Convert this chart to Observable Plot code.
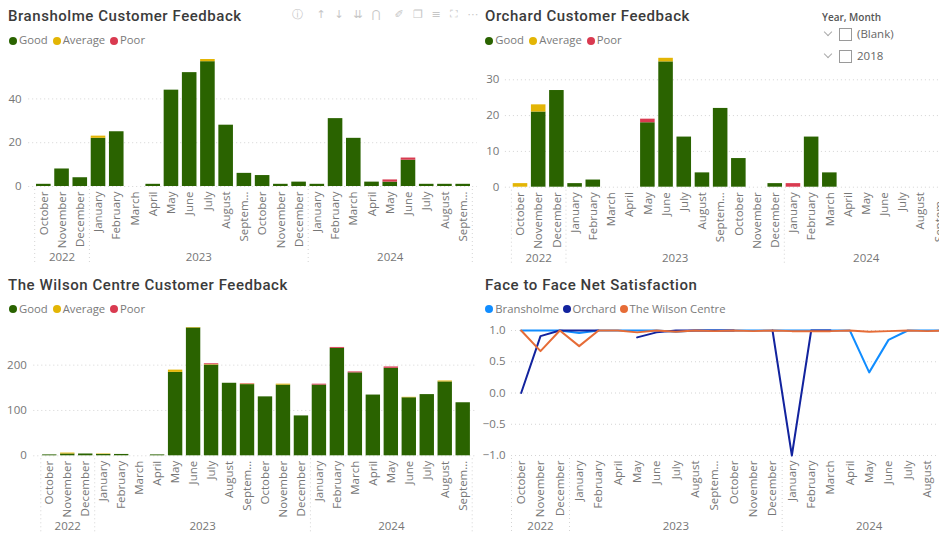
<!DOCTYPE html>
<html>
<head>
<meta charset="utf-8">
<script src="https://cdn.jsdelivr.net/npm/d3@7"></script>
<script src="https://cdn.jsdelivr.net/npm/@observablehq/plot@0.6"></script>
<style>
html,body{margin:0;padding:0;width:939px;height:535px;overflow:hidden;background:#fff}
#page{position:relative;width:939px;height:535px;overflow:hidden;font-family:"Open Sans",sans-serif}
.t{position:absolute;white-space:nowrap}
.title{font-family:Roboto,sans-serif;font-weight:500;font-size:15px;letter-spacing:.55px;color:#3b3b3b;line-height:18px}
.leg{font-size:11.3px;color:#7a7a7a;line-height:16px}
.dot{position:absolute;width:8px;height:8px;border-radius:50%}
.icon{font-family:"DejaVu Sans",sans-serif;font-size:11px;color:#c6c6c6;line-height:14px;transform:translateX(-50%)}
.box{position:absolute;width:11px;height:11px;border:1px solid #9a9a9a;background:#fff}
.chev{position:absolute;width:5px;height:5px;border-right:1px solid #aaa;border-bottom:1px solid #aaa;transform:rotate(45deg)}
</style>
</head>
<body>
<div id="page"></div>
<script>
// ---- data ----
const monthKeys = ["2022-10","2022-11","2022-12","2023-01","2023-02","2023-03","2023-04","2023-05","2023-06","2023-07","2023-08","2023-09","2023-10","2023-11","2023-12","2024-01","2024-02","2024-03","2024-04","2024-05","2024-06","2024-07","2024-08","2024-09"];
const monthNames = {"01":"January","02":"February","03":"March","04":"April","05":"May","06":"June","07":"July","08":"August","09":"Septem…","10":"October","11":"November","12":"December"};
const statuses = ["Good","Average","Poor"];
const statusColors = ["#2a6300","#e3b505","#d93a50"];
const siteNames = ["Bransholme","Orchard","The Wilson Centre"];
const siteColors = ["#118dff","#12239e","#e66c37"];
const years = ["2022","2023","2024"];

const bransholmeGood    = [1,8,4,22,25,0,1,44,52,57,28,6,5,1,2,1,31,22,2,2,12,1,1,1];
const bransholmeAverage = [0,0,0,1,0,0,0,0,0,1,0,0,0,0,0,0,0,0,0,0,0,0,0,0];
const bransholmePoor    = [0,0,0,0,0,0,0,0,0,0,0,0,0,0,0,0,0,0,0,1,1,0,0,0];

const orchardGood    = [0,21,27,1,2,0,0,18,35,14,4,22,8,0,1,0,14,4,0,0,0,0,0,0];
const orchardAverage = [1,2,0,0,0,0,0,0,1,0,0,0,0,0,0,0,0,0,0,0,0,0,0,0];
const orchardPoor    = [0,0,0,0,0,0,0,1,0,0,0,0,0,0,0,1,0,0,0,0,0,0,0,0];

const wilsonGood    = [2,4,4,3,3,0,2,184,282,200,160,157,130,156,88,156,237,183,134,193,128,135,163,117];
const wilsonAverage = [0,2,0,1,0,0,0,5,1,1,0,1,0,2,0,0,0,0,0,0,1,0,2,0];
const wilsonPoor    = [0,0,0,0,0,0,0,0,0,2,0,1,0,0,0,2,2,2,0,3,0,0,0,0];

// The net satisfaction chart has no March 2023 on its axis.
const netMonths = monthKeys.filter(k => k !== "2023-03");
const netBransholme = [1,1,1,0.96,1,1,1,1,0.98,1,1,1,1,1,1,1,1,1,0.33,0.85,1,1,1];
const netOrchard    = [0,0.91,1,1,1,null,0.89,0.97,1,1,1,1,null,1,-1,1,1,null,null,null,null,null,null];
const netWilson     = [1,0.67,1,0.75,1,1,0.97,1,0.98,1,0.99,1,0.99,1,0.99,0.99,0.99,1,0.98,0.99,1,0.99,1];

const yTicksBransholme = [0,20,40];
const yTicksOrchard = [0,10,20,30];
const yTicksWilson = [0,100,200];
const yTicksNet = [-1,-0.5,0,0.5,1];

const sliceOptions = ["(Blank)","2018"];
const toolbarGlyphs = [["ⓘ",297],["↑",321],["↓",339],["⇊",358],["⋂",376],["✐",399],["❐",418],["≡",436],["⛶",454],["⋯",473]];

// ---- helpers ----
const page = document.getElementById("page");
const GRID = "#d4d4d4", TICK = "#767676", FS = 11.5;
const monthLabel = k => monthNames[k.slice(5)];

function addText(cls, text, left, top, extra){
  const d = document.createElement("div");
  d.className = "t " + cls; d.textContent = text;
  d.style.left = left + "px"; d.style.top = top + "px";
  if (extra) Object.assign(d.style, extra);
  page.appendChild(d);
}
function addDot(cls, left, top, color){
  const d = document.createElement("div");
  d.className = cls; d.style.left = left + "px"; d.style.top = top + "px";
  if (color) d.style.background = color;
  page.appendChild(d);
}
function addLegend(items, colors, lefts, y){
  items.forEach((name,i) => {
    addDot("dot", lefts[i], y - 4, colors[i]);
    addText("leg", name, lefts[i] + 10, y - 8.5);
  });
}

// Shared frame of month axis, year labels, separators and gridlines.
function frameMarks(o){
  const months = o.months, step = o.w / months.length;
  const yearOf = k => k.slice(0,4);
  const firsts = years.map(y => months.find(k => yearOf(k) === y));
  const labels = years.map(y => {
    const ms = months.filter(k => yearOf(k) === y);
    return {year:y, key:ms[Math.floor((ms.length - 1) / 2)], even:ms.length % 2 === 0};
  });
  const ySpan = o.yMax - o.yMin;
  const unit = ySpan / o.h;                 // data units for one pixel
  const below = px => o.yMin - px * unit;   // data value a number of pixels under the baseline
  return [
    Plot.gridY(o.ticks, {stroke:GRID, strokeOpacity:1, strokeDasharray:"1 3", insetLeft:-o.gridL, insetRight:-o.gridR}),
    Plot.ruleX(firsts, {x:d=>d, y1:below(3), y2:below(o.sepEnd), stroke:GRID, strokeDasharray:"1 3", dx:-step/2}),
    Plot.ruleX(months.slice(-1), {x:d=>d, y1:below(3), y2:below(o.sepEnd), stroke:GRID, strokeDasharray:"1 3", dx:step/2}),
    Plot.axisX({ticks:months, tickFormat:monthLabel, tickRotate:-90, tickSize:0, tickPadding:5, fontSize:FS, color:TICK, label:null, lineWidth:100}),
    Plot.axisY({ticks:o.ticks, tickFormat:o.fmt, tickSize:0, tickPadding:o.yPad, fontSize:FS, color:TICK, label:null}),
    Plot.text(labels.filter(d => !d.even), {x:"key", y:() => below(o.yearAt), text:"year", fontSize:FS, fill:TICK}),
    Plot.text(labels.filter(d => d.even), {x:"key", y:() => below(o.yearAt), text:"year", fontSize:FS, fill:TICK, dx:step/2})
  ];
}

function place(svg, left, top){
  Object.assign(svg.style, {position:"absolute", left:left + "px", top:top + "px", overflow:"visible", maxWidth:"none"});
  page.appendChild(svg);
}

function stackedChart(c){
  const rows = [];
  c.series.forEach((vals,s) => vals.forEach((v,i) => rows.push({month:monthKeys[i], status:statuses[s], n:v})));
  const svg = Plot.plot({
    width:c.width, height:c.height,
    marginLeft:c.ml, marginRight:c.width - c.ml - c.w, marginTop:c.mt, marginBottom:c.height - c.mt - c.h,
    style:{fontFamily:'"Open Sans",sans-serif', background:"transparent"},
    x:{type:"band", domain:monthKeys, paddingInner:0.2, paddingOuter:0.1, round:false, axis:null},
    y:{domain:[0,c.yMax], axis:null},
    color:{domain:statuses, range:statusColors},
    marks:[
      ...frameMarks({months:monthKeys, w:c.w, h:c.h, yMin:0, yMax:c.yMax, ticks:c.ticks, gridL:c.gridL, gridR:c.gridR, sepEnd:c.sepEnd, yearAt:c.yearAt, yPad:c.yPad, fmt:d3.format("d")}),
      Plot.barY(rows, {x:"month", y:"n", fill:"status", order:statuses})
    ]
  });
  place(svg, c.left, c.top);
}

// ---- charts ----
addText("title", "Bransholme Customer Feedback", 8, 7);
addLegend(statuses, statusColors, [9,52.7,110], 40.5);
stackedChart({left:0, top:50, width:480, height:220, ml:34.2, w:437.6, mt:9, h:127, yMax:58,
  series:[bransholmeGood,bransholmeAverage,bransholmePoor], ticks:yTicksBransholme, gridL:6, gridR:5, sepEnd:79, yearAt:71, yPad:13});

addText("title", "Orchard Customer Feedback", 485, 7);
addLegend(statuses, statusColors, [485.3,529.3,586.7], 40.5);
stackedChart({left:470, top:50, width:480, height:220, ml:40.9, w:436.7, mt:7.8, h:128.9, yMax:36,
  series:[orchardGood,orchardAverage,orchardPoor], ticks:yTicksOrchard, gridL:6, gridR:0, sepEnd:79, yearAt:71, yPad:12});

addText("title", "The Wilson Centre Customer Feedback", 8, 276);
addLegend(statuses, statusColors, [9,52.7,110], 309);
stackedChart({left:0, top:320, width:480, height:215, ml:40.3, w:431.4, mt:7, h:128.3, yMax:283,
  series:[wilsonGood,wilsonAverage,wilsonPoor], ticks:yTicksWilson, gridL:7, gridR:5, sepEnd:79, yearAt:71, yPad:14});

addText("title", "Face to Face Net Satisfaction", 485, 276);
addLegend(siteNames, siteColors, [485.3,562.5,619.5], 309);
const netRows = [];
[netBransholme,netOrchard,netWilson].forEach((vals,s) => vals.forEach((v,i) => netRows.push({month:netMonths[i], site:siteNames[s], v})));
const netSvg = Plot.plot({
  width:486, height:215, marginLeft:41, marginRight:486 - 41 - 444.7, marginTop:10, marginBottom:80,
  style:{fontFamily:'"Open Sans",sans-serif', background:"transparent"},
  x:{type:"point", domain:netMonths, padding:0.5, round:false, axis:null},
  y:{domain:[-1,1], axis:null},
  color:{domain:siteNames, range:siteColors},
  marks:[
    ...frameMarks({months:netMonths, w:444.7, h:125, yMin:-1, yMax:1, ticks:yTicksNet, gridL:0, gridR:0, sepEnd:79, yearAt:71, yPad:6, fmt:d3.format(".1f")}),
    Plot.line(netRows, {x:"month", y:"v", z:"site", stroke:"site", strokeWidth:2, curve:"linear"})
  ]
});
place(netSvg, 470, 320);

// ---- page furniture ----
toolbarGlyphs.forEach(([g,x]) => addText("icon", g, x, 8));
addText("", "Year, Month", 822, 10, {fontSize:"10px", fontWeight:"600", color:"#555", lineHeight:"14px"});
sliceOptions.forEach((s,i) => {
  const y = 34 + i * 22;
  const ch = document.createElement("div"); ch.className = "chev";
  ch.style.left = "825px"; ch.style.top = (y - 5) + "px"; page.appendChild(ch);
  const b = document.createElement("div"); b.className = "box";
  b.style.left = "839px"; b.style.top = (y - 6) + "px"; page.appendChild(b);
  addText("", s, 857, y - 8, {fontSize:"11.5px", color:"#666", lineHeight:"16px"});
});
</script>
</body>
</html>
